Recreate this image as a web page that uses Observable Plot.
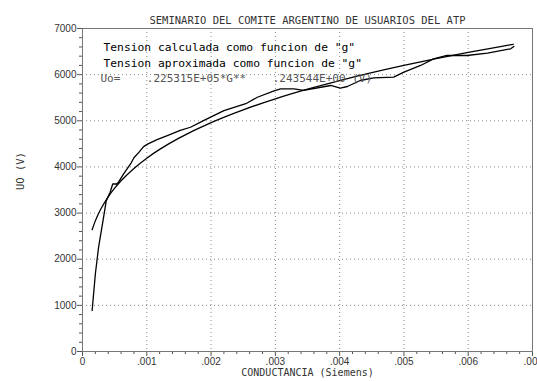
<!DOCTYPE html>
<html><head><meta charset="utf-8">
<script src="https://cdn.jsdelivr.net/npm/d3@7"></script>
<script src="https://cdn.jsdelivr.net/npm/@observablehq/plot@0.6"></script>
<style>html,body{margin:0;padding:0;background:#fff} svg{display:block}</style>
</head><body><div id="chart"></div>
<script>
// Calculated voltage as a function of conductance
const calcG = [0.00015,0.0002,0.00025,0.00032,0.00037,0.00043,0.00047,0.00053,0.00056,0.00064,0.00075,0.0008,0.00088,0.00095,0.00102,0.00116,0.00132,0.00152,0.00168,0.00189,0.0022,0.00254,0.00272,0.00298,0.00308,0.00329,0.00344,0.00386,0.00401,0.00412,0.00432,0.00453,0.00484,0.005,0.00526,0.00546,0.00567,0.00598,0.0063,0.00666,0.00671];
const calcV = [890,1680,2260,2840,3270,3450,3630,3630,3670,3850,4070,4200,4320,4440,4500,4590,4680,4790,4860,5010,5220,5370,5510,5650,5690,5690,5660,5765,5707,5743,5873,5932,5946,6055,6199,6342,6415,6415,6465,6560,6610];
// Approximated voltage
const approxG = [0.00015,0.0002,0.00025,0.0003,0.0004,0.0005,0.0006,0.0008,0.001,0.0012,0.0015,0.002,0.0025,0.003,0.0035,0.004,0.0045,0.005,0.0055,0.006,0.0065,0.0067];
const approxV = [2639,2831,2989,3125,3352,3539,3700,3968,4190,4380,4625,4960,5237,5475,5684,5872,6043,6200,6345,6481,6609,6658];

const xTicks = [0,0.001,0.002,0.003,0.004,0.005,0.006,0.007];
const xTickLabels = ["0",".001",".002",".003",".004",".005",".006",".00"];
const yTicks = [0,1000,2000,3000,4000,5000,6000,7000];
const yTickLabels = ["0","1000","2000","3000","4000","5000","6000","7000"];

const titleText = "SEMINARIO DEL COMITE ARGENTINO DE USUARIOS DEL ATP";
const xLabel = "CONDUCTANCIA (Siemens)";
const yLabel = "UO (V)";
const legendLine1 = "Tension calculada como funcion de \"g\"";
const legendLine2 = "Tension aproximada como funcion de \"g\"";
const formulaLine = "Uo=    .225315E+05*G**    .243544E+00 (V)";

const calc = calcG.map((g, i) => ({g, v: calcV[i]}));
const approx = approxG.map((g, i) => ({g, v: approxV[i]}));
const minorX = d3.range(0, 0.00701, 0.0002).filter(d => Math.abs(d / 0.001 - Math.round(d / 0.001)) > 1e-6);
const minorY = d3.range(0, 7001, 200).filter(d => d % 1000 !== 0);
const lastX = xTicks.length - 1;

const mono = "DejaVu Sans Mono";
const sans = "Liberation Sans";

const chart = Plot.plot({
  width: 537,
  height: 381,
  marginLeft: 82,
  marginRight: 5,
  marginTop: 28,
  marginBottom: 30,
  style: {fontFamily: sans, fontSize: "10px", color: "#333", background: "#fff"},
  x: {domain: [0, 0.007]},
  y: {domain: [0, 7000]},
  marks: [
    Plot.gridX(xTicks.slice(1, -1), {stroke: "#888", strokeOpacity: 1, strokeDasharray: "1,3"}),
    Plot.gridY(yTicks.slice(1, -1), {stroke: "#888", strokeOpacity: 1, strokeDasharray: "1,3"}),
    Plot.axisX(minorX, {tickSize: 3, tickFormat: () => "", label: null, stroke: "#555"}),
    Plot.axisY(minorY, {tickSize: 3, tickFormat: () => "", label: null, stroke: "#555"}),
    Plot.axisX(xTicks.slice(0, lastX), {tickSize: 5, tickPadding: 1, tickFormat: d => xTickLabels[xTicks.indexOf(d)], label: null, stroke: "#555", fill: "#333", fontSize: 10}),
    Plot.axisX([xTicks[lastX]], {tickSize: 5, tickFormat: () => "", label: null, stroke: "#555"}),
    Plot.text([xTicks[lastX]], {x: d => d, text: () => xTickLabels[lastX], frameAnchor: "bottom", lineAnchor: "top", textAnchor: "end", dx: 5, dy: 6, fontSize: 10, fill: "#333"}),
    Plot.axisY(yTicks, {tickSize: 5, tickPadding: 1, tickFormat: d => yTickLabels[yTicks.indexOf(d)], label: null, stroke: "#555", fill: "#333", fontSize: 10}),
    Plot.frame({stroke: "#777"}),
    Plot.line(approx, {x: "g", y: "v", stroke: "#000", strokeWidth: 1.3, curve: "catmull-rom"}),
    Plot.line(calc, {x: "g", y: "v", stroke: "#000", strokeWidth: 1.3}),
    Plot.text([titleText], {frameAnchor: "top", dy: -12, fontFamily: mono, fontSize: 10.5, fill: "#333"}),
    Plot.text([xLabel], {frameAnchor: "bottom", dy: 24, fontFamily: mono, fontSize: 10, fill: "#333"}),
    Plot.text([yLabel], {frameAnchor: "left", dx: -62, rotate: -90, fontFamily: mono, fontSize: 10.5, fill: "#333"}),
    Plot.text([legendLine1], {frameAnchor: "top-left", textAnchor: "start", dx: 21, dy: 14, fontFamily: mono, fontSize: 11.3, fill: "#000"}),
    Plot.text([legendLine2], {frameAnchor: "top-left", textAnchor: "start", dx: 21, dy: 30, fontFamily: mono, fontSize: 11.3, fill: "#000"}),
    Plot.text([formulaLine], {frameAnchor: "top-left", textAnchor: "start", dx: 18, dy: 46, fontFamily: mono, fontSize: 11, fill: "#555"})
  ]
});
document.getElementById("chart").appendChild(chart);
</script>
</body></html>
